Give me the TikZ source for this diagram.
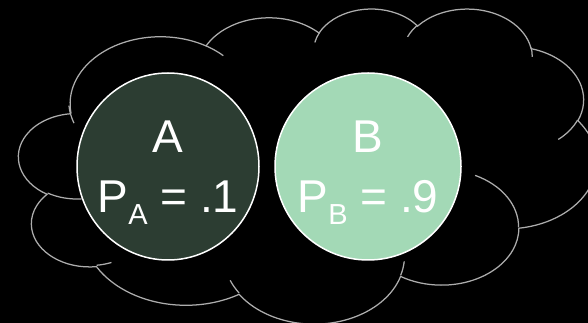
\documentclass[tikz,border=0pt]{standalone}
\usepackage{fontspec}
\usepackage{tikz}
\usetikzlibrary{positioning,shapes.geometric}
\setmainfont{Liberation Sans}
\definecolor{cloudGray}{HTML}{ADADAD}
\definecolor{outDark}{HTML}{2C3D32}
\definecolor{outLight}{HTML}{A3D9B6}
\newcommand{\lowsub}[1]{\raisebox{-12.3pt}{\fontsize{29}{29}\selectfont #1}}
\newcommand{\bump}[4]{arc[x radius=#1, y radius=#2, start angle={vang(#3,#1,#2)}, end angle={vang(#3+#4,#1,#2)}]}
\tikzset{declare function={vang(\ang,\rw,\rh)=\ang+mod(atan2(\rw*sin(\ang),\rh*cos(\ang))-\ang+900,360)-180;}}

\begin{document}
\begin{tikzpicture}[
  x=1pt, y=1pt,
  outcome/.style={ellipse, draw=white, line width=1.5pt, inner sep=0pt, outer sep=0pt},
  bigtext/.style={text=white, font=\fontsize{46}{46}\selectfont, inner sep=0pt, anchor=base},
  cloudline/.style={draw=cloudGray, line width=1.25pt}
]
  \fill[black] (0,0) rectangle (588,323);
  \useasboundingbox (0,0) rectangle (588,323);

  % cloud outline, drawn in a 43.2 x 43.2 frame
  \begin{scope}[shift={(18.8,315)}, x=13.370pt, y=-7.2917pt]
    \draw[cloudline] (3.900,14.370)
      \bump{6.753}{9.190}{-190.4875}{123.7805}
      \bump{5.333}{7.267}{-144.1024}{89.9452}
      \bump{4.365}{5.945}{-145.8079}{99.7230}
      \bump{4.857}{6.595}{-130.9861}{117.2417}
      \bump{5.333}{7.273}{-78.7089}{109.0269}
      \bump{6.775}{9.220}{-46.2673}{130.2690}
      \bump{5.785}{7.867}{0.6250}{114.0333}
      \bump{6.752}{9.215}{22.4516}{115.1726}
      \bump{7.720}{10.543}{66.2426}{75.7110}
      \bump{4.360}{5.918}{-274.9421}{146.7356}
      \bump{4.345}{5.945}{-246.8285}{152.5189}
      -- cycle;
    % small inner arcs at the dents
    \draw[cloudline]
      (4.693,26.177) \bump{4.345}{5.945}{86.7420}{26.4295}
      (6.928,34.899) \bump{4.360}{5.918}{73.6105}{11.4475}
      (16.478,39.090) \bump{6.752}{9.215}{137.6242}{14.0811}
      (28.827,34.751) \bump{6.752}{9.215}{6.4533}{15.9984}
      (34.129,22.954) \bump{5.785}{7.867}{-70.2924}{70.9174}
      (41.798,15.354) \bump{5.333}{7.273}{30.3180}{27.7515}
      (38.324,5.426) \bump{4.857}{6.595}{-13.7443}{14.8589}
      (29.078,3.952) \bump{4.857}{6.595}{-149.1815}{18.1954}
      (22.141,4.720) \bump{4.365}{5.945}{-163.4943}{17.6864}
      (14.000,5.192) \bump{6.753}{9.190}{-66.7070}{12.3194}
      (4.127,15.789) \bump{6.753}{9.190}{153.9411}{20.0195};
  \end{scope}

  \node[outcome, fill=outDark, minimum width=182pt, minimum height=187pt] (evA) at (168,156.5) {};
  \node[outcome, fill=outLight, minimum width=186pt, minimum height=187pt, right=16pt of evA] (evB) {};

  \node[bigtext] (nameA) at ([yshift=13.5pt]evA.center) {A};
  \node[bigtext] (probA) at ([yshift=-46.2pt]evA.center) {P\lowsub{A} = .1};
  \node[bigtext] (nameB) at ([yshift=13.5pt]evB.center) {B};
  \node[bigtext] (probB) at ([yshift=-46.2pt]evB.center) {P\lowsub{B} = .9};
\end{tikzpicture}
\end{document}
